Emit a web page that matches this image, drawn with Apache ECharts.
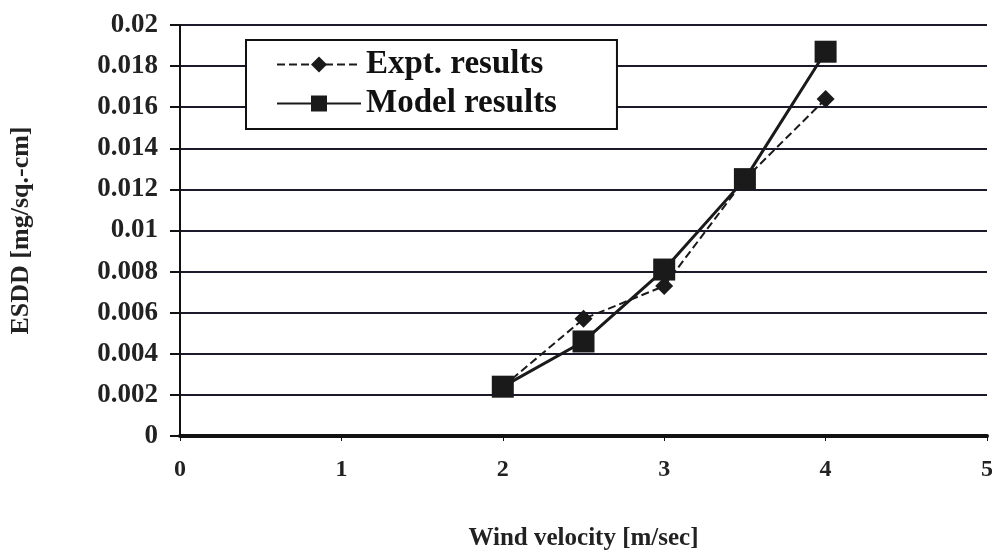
<!DOCTYPE html>
<html>
<head>
<meta charset="utf-8">
<script src="https://cdn.jsdelivr.net/npm/echarts@6/dist/echarts.min.js"></script>
<style>
  html, body { margin: 0; padding: 0; background: #fff; }
  #main { width: 992px; height: 559px; }
</style>
</head>
<body>
<div id="main"></div>
<script>
// wind velocity (m/sec)
const velocity = [2, 2.5, 3, 3.5, 4];
// ESDD values
const exptResults = [0.0024, 0.0057, 0.0073, 0.0125, 0.0164];
const modelResults = [0.0024, 0.0046, 0.0081, 0.0125, 0.0187];

const toPairs = vals => velocity.map((v, i) => [v, vals[i]]);

var myChart = echarts.init(document.getElementById("main"));
const serif = "Liberation Serif";

myChart.setOption({
  backgroundColor: "#fff",
  animation: false,
  textStyle: { fontFamily: serif },
  grid: { left: 180, right: 5, top: 25, bottom: 123, outerBoundsMode: "none", containLabel: false },
  legend: {
    left: 246,
    top: 40,
    orient: "vertical",
    padding: [8, 60, 9, 30],
    itemGap: 6,
    itemWidth: 84,
    itemHeight: 20,
    backgroundColor: "#fff",
    borderColor: "#111",
    borderWidth: 2,
    borderRadius: 0,
    textStyle: { fontFamily: serif, fontSize: 33, color: "#111", fontWeight: "bold" },
    data: ["Expt. results", "Model results"]
  },
  xAxis: {
    type: "value",
    min: 0,
    max: 5,
    interval: 1,
    name: "Wind velocity [m/sec]",
    nameLocation: "middle",
    nameGap: 90,
    nameTextStyle: { fontFamily: serif, fontSize: 25, color: "#222", fontWeight: "bold" },
    axisLine: { show: true, lineStyle: { color: "#111", width: 4 } },
    axisTick: { show: true, length: 5, lineStyle: { color: "#111" } },
    axisLabel: { fontFamily: serif, fontSize: 24, color: "#222", fontWeight: "bold", margin: 22 },
    splitLine: { show: false }
  },
  yAxis: {
    type: "value",
    min: 0,
    max: 0.02,
    interval: 0.002,
    name: "ESDD [mg/sq.-cm]",
    nameLocation: "middle",
    nameGap: 146,
    nameTextStyle: { fontFamily: serif, fontSize: 26, color: "#222", fontWeight: "bold" },
    axisLine: { show: true, lineStyle: { color: "#111", width: 2 } },
    axisTick: { show: true, inside: false, length: 10, lineStyle: { color: "#111", width: 2 } },
    axisLabel: {
      fontFamily: serif, fontSize: 27, color: "#222", fontWeight: "bold", margin: 22,
      formatter: v => String(+v.toFixed(3))
    },
    splitLine: { show: true, lineStyle: { color: "#1a1a2a", width: 2 } }
  },
  series: [
    {
      name: "Expt. results",
      type: "line",
      data: toPairs(exptResults),
      symbol: "diamond",
      symbolSize: 18,
      itemStyle: { color: "#1a1a1a" },
      lineStyle: { color: "#1a1a1a", width: 2, type: "dashed" },
      z: 3
    },
    {
      name: "Model results",
      type: "line",
      data: toPairs(modelResults),
      symbol: "rect",
      symbolSize: 22,
      itemStyle: { color: "#1a1a1a" },
      lineStyle: { color: "#1a1a1a", width: 3 },
      z: 2
    }
  ]
});
</script>
</body>
</html>
